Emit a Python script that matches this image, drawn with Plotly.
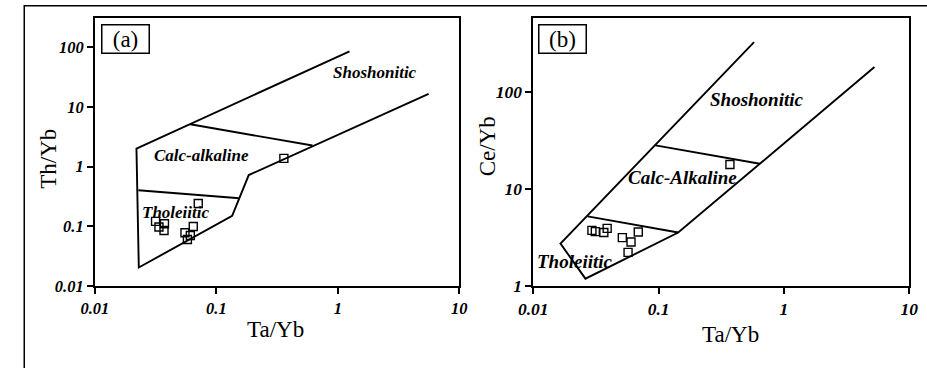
import math
import plotly.graph_objects as go

# ---------------- data ----------------
# Panel (a): Th/Yb vs Ta/Yb
ta_yb_a = [0.071, 0.0316, 0.0374, 0.0337, 0.0371, 0.0646, 0.0552, 0.0611, 0.0578, 0.36]
th_yb = [0.24, 0.121, 0.110, 0.097, 0.085, 0.099, 0.078, 0.070, 0.060, 1.37]

# Panel (b): Ce/Yb vs Ta/Yb
ta_yb_b = [0.0294, 0.0313, 0.0366, 0.0389, 0.0514, 0.0603, 0.0689, 0.0571, 0.371]
ce_yb = [3.74, 3.63, 3.55, 3.92, 3.15, 2.84, 3.60, 2.22, 17.8]

# Field boundaries, panel (a)
fa_outer_x = [1.25, 0.022, 0.023, 0.135, 0.185, 5.6]
fa_outer_y = [85, 2.0, 0.0204, 0.15, 0.72, 16.5]
fa_cs_x = [0.061, 0.62]
fa_cs_y = [5.1, 2.25]
fa_tc_x = [0.0228, 0.155]
fa_tc_y = [0.40, 0.295]

# Field boundaries, panel (b)
fb_outer_x = [0.578, 0.0165, 0.0261, 0.1435, 5.28]
fb_outer_y = [324, 2.73, 1.19, 3.55, 179]
fb_cs_x = [0.0946, 0.643]
fb_cs_y = [28, 18.1]
fb_tc_x = [0.0272, 0.1435]
fb_tc_y = [5.2, 3.55]

# Ticks
x_tickvals = [0.01, 0.1, 1, 10]
x_ticktext = ["0.01", "0.1", "1", "10"]
ya_tickvals = [0.01, 0.1, 1, 10, 100]
ya_ticktext = ["0.01", "0.1", "1", "10", "100"]
yb_tickvals = [1, 10, 100]
yb_ticktext = ["1", "10", "100"]

# ---------------- figure ----------------
W, H = 927, 368
SERIF = "Liberation Serif"
LW = 1.9

fig = go.Figure()

def add_lines(xs, ys, xa, ya):
    fig.add_trace(go.Scatter(x=xs, y=ys, mode="lines",
                             line=dict(color="black", width=LW),
                             xaxis=xa, yaxis=ya, showlegend=False, hoverinfo="skip"))

for xs, ys in [(fa_outer_x, fa_outer_y), (fa_cs_x, fa_cs_y), (fa_tc_x, fa_tc_y)]:
    add_lines(xs, ys, "x", "y")
for xs, ys in [(fb_outer_x, fb_outer_y), (fb_cs_x, fb_cs_y), (fb_tc_x, fb_tc_y)]:
    add_lines(xs, ys, "x2", "y2")

mk = dict(symbol="square-open", size=8, color="black", line=dict(width=1.4, color="black"))
fig.add_trace(go.Scatter(x=ta_yb_a, y=th_yb, mode="markers", marker=mk,
                         xaxis="x", yaxis="y", showlegend=False))
fig.add_trace(go.Scatter(x=ta_yb_b, y=ce_yb, mode="markers", marker=mk,
                         xaxis="x2", yaxis="y2", showlegend=False))

def px_x(p):
    return p / W

def px_y(p):
    return (H - p) / H

def bi(labels):
    return ["<b><i>%s</i></b>" % t for t in labels]

def axis_common(size):
    return dict(type="log", showline=True, linecolor="black", linewidth=1.7,
                mirror=True, ticks="outside", ticklen=6, tickwidth=1.6,
                tickcolor="black", showgrid=False, zeroline=False,
                tickfont=dict(family=SERIF, size=size, color="black"))

ydom = [px_y(294), px_y(18)]

fig.update_layout(
    width=W, height=H,
    margin=dict(l=0, r=0, t=0, b=0),
    paper_bgcolor="white", plot_bgcolor="white",
    xaxis=dict(domain=[px_x(82), px_x(456)], range=[-2, 1], anchor="y",
               tickvals=x_tickvals, ticktext=bi(x_ticktext), **axis_common(16.5)),
    yaxis=dict(domain=ydom, range=[-2, 2.495], anchor="x",
               tickvals=ya_tickvals, ticktext=bi(ya_ticktext), **axis_common(16.5)),
    xaxis2=dict(domain=[px_x(532), px_x(918)], range=[-2, 1], anchor="y2",
                tickvals=x_tickvals, ticktext=bi(x_ticktext), **axis_common(17.5)),
    yaxis2=dict(domain=ydom, range=[0, 2.763], anchor="x2",
                tickvals=yb_tickvals, ticktext=bi(yb_ticktext), **axis_common(17.5)),
)

anns = []
# axis titles
for txt, x, y, ang in [("Th/Yb", 34, 163, -90), ("Ce/Yb", 485, 150, -90),
                       ("Ta/Yb", 267, 339, 0), ("Ta/Yb", 735, 344, 0)]:
    anns.append(dict(text=txt, x=px_x(x), y=px_y(y), xref="paper", yref="paper",
                     showarrow=False, textangle=ang, xanchor="center", yanchor="middle",
                     font=dict(family=SERIF, size=23, color="black")))

# panel labels
for txt, x0 in [("(a)", 88), ("(b)", 537)]:
    anns.append(dict(text=txt, x=px_x(x0), y=px_y(25), xref="paper", yref="paper",
                     xanchor="left", yanchor="top", showarrow=False,
                     width=44, height=25, borderpad=1, bordercolor="black",
                     borderwidth=1.5, bgcolor="white",
                     font=dict(family=SERIF, size=23, color="black")))

# field names
def field(txt, x, y, xr, yr, size):
    anns.append(dict(text="<b><i>%s</i></b>" % txt, x=math.log10(x), y=math.log10(y),
                     xref=xr, yref=yr, showarrow=False, xanchor="center", yanchor="middle",
                     font=dict(family=SERIF, size=size, color="black")))

field("Shoshonitic", 2.04, 36.9, "x", "y", 17)
field("Calc-alkaline", 0.076, 1.52, "x", "y", 17)
field("Tholeiitic", 0.047, 0.171, "x", "y", 17)
field("Shoshonitic", 0.607, 84, "x2", "y2", 19)
field("Calc-Alkaline", 0.155, 13.1, "x2", "y2", 19)
field("Tholeiitic", 0.0215, 1.78, "x2", "y2", 19)

fig.update_layout(annotations=anns)

# outer frame of the figure
fig.add_shape(type="rect", xref="paper", yref="paper",
              x0=px_x(9.5), x1=px_x(940), y0=px_y(380), y1=px_y(6),
              line=dict(color="black", width=1.5), layer="below")

fig.write_html("out.html", config={"displayModeBar": False},
               post_script="document.body.style.margin='0px';")
